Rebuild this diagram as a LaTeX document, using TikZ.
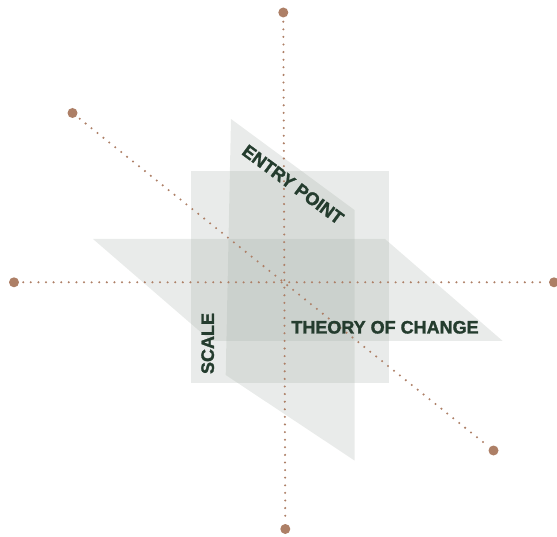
\documentclass[tikz,border=0pt]{standalone}
\usepackage{fontspec}
\setmainfont[BoldFeatures={FakeBold=1.6}]{Liberation Sans}

\definecolor{axisbrown}{HTML}{AD7F66}
\definecolor{planegray}{RGB}{160,170,163}
\definecolor{textgreen}{HTML}{243C2E}

\tikzstyle{enddot} = [circle, fill=axisbrown, inner sep=0pt, minimum size=10pt]
\tikzstyle{axisline} = [draw=axisbrown, line width=2.3pt, line cap=round, dash pattern=on 0pt off 7.6pt, shorten <=4pt, shorten >=4pt]
\tikzstyle{plane} = [fill=planegray, fill opacity=0.23, draw=none]
\tikzstyle{dimname} = [text=textgreen, font=\bfseries\fontsize{18}{18}\selectfont, inner sep=0pt]

\begin{document}
\begin{tikzpicture}[x=1pt, y=-1pt]
\useasboundingbox (0,0) rectangle (557,537);

% Planes
\fill [plane] (93,239) -- (385,239) -- (502.7,341) -- (211,341) -- cycle;
\fill [plane] (191,171) rectangle (388.6,383);
\fill [plane] (231,119) -- (354.5,210) -- (354.5,460.5) -- (225.7,375) -- cycle;

% Axis end points
\node (top) [enddot] at (283.3,12.5) {};
\node (bot) [enddot] at (285.3,529) {};
\node (lft) [enddot] at (14,282.3) {};
\node (rgt) [enddot] at (554,282.3) {};
\node (ulft) [enddot] at (72.5,113) {};
\node (lrgt) [enddot] at (493.5,450.5) {};

\draw [axisline] (top) -- (bot);
\draw [axisline] (lft) -- (rgt);
\draw [axisline] (ulft) -- (lrgt);

% Plane names
\node (entry) [dimname, rotate=-36.4] at (293,184.5) {ENTRY POINT};
\node (scale) [dimname, rotate=90] at (207.7,343.5) {SCALE};
\node (toc) [dimname] at (385,327.3) {THEORY OF CHANGE};
\end{tikzpicture}
\end{document}
